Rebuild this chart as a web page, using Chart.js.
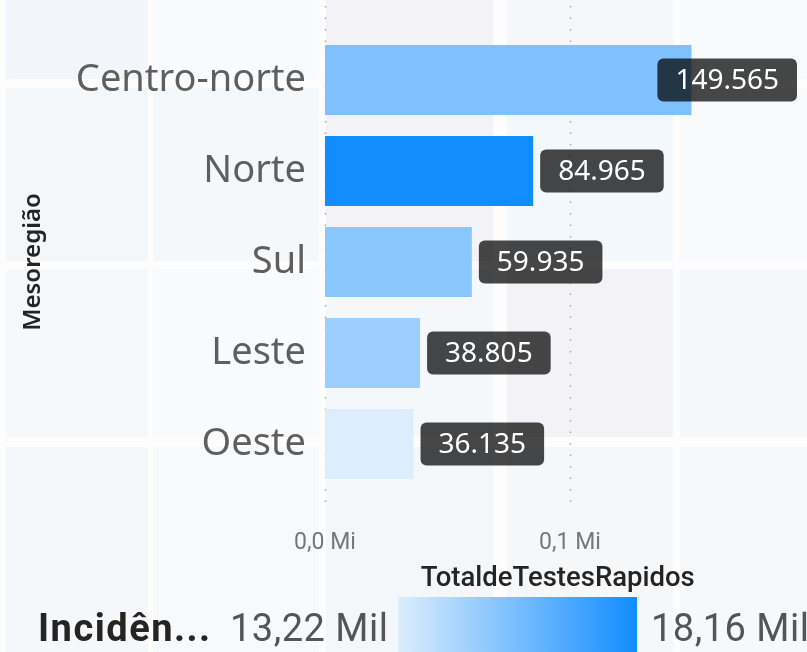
<!DOCTYPE html>
<html lang="pt-BR">
<head>
<meta charset="utf-8">
<title>TotaldeTestesRapidos por Mesoregião</title>
<script src="https://cdn.jsdelivr.net/npm/chart.js@4.4.0/dist/chart.umd.min.js"></script>
<style>
    html, body { margin: 0; padding: 0; background: #ffffff; }
    #wrap { width: 807px; height: 652px; position: relative; }
</style>
</head>
<body>
<div id="wrap"><canvas id="chart" width="807" height="652"></canvas></div>
<script>
// --- DATA ---
const regioes = ['Centro-norte', 'Norte', 'Sul', 'Leste', 'Oeste'];
const totalTestes = [149565, 84965, 59935, 38805, 36135];
const xTickValues = [0, 100000];
const incidenciaTitulo = 'Incidên...';
const incidenciaMin = '13,22 Mil';
const incidenciaMax = '18,16 Mil';

// bar colours follow the incidence gradient (light -> strong blue)
const barColors = ['#7fc0ff', '#118dff', '#8ac6ff', '#9ccfff', '#dcedfd'];

const fmtMil = v => String(v).replace(/\B(?=(\d{3})+(?!\d))/g, '.');
const fmtMi = v => (v / 1e6).toFixed(1).replace('.', ',') + ' Mi';

// --- BACKGROUND TILES (faint report backdrop) ---
const tileCols = [[6, 148], [153, 319], [326, 493], [507, 673], [680, 807]];
const tileRows = [[0, 79], [88, 261], [269, 437], [447, 652]];
const tileShades = [
    ['#f2f5f9', '#f8fafc', '#f2f2f7', '#f6f7fa', '#f7f9fb'],
    ['#f4f7fa', '#f5f8fa', '#f2f2f7', '#f2f8fc', '#f7f9fb'],
    ['#f6f8fa', '#f8fafc', '#f4f8fa', '#f2f2f7', '#f5f7fa'],
    ['#f5f7fa', '#f7f9fb', '#f4f7fa', '#f5f7f9', '#f6f8fa']
];

const backdrop = {
    id: 'backdrop',
    beforeDraw(chart) {
        const ctx = chart.ctx;
        ctx.save();
        ctx.fillStyle = '#fdfdfe';
        ctx.fillRect(0, 0, chart.width, chart.height);
        tileRows.forEach((r, i) => {
            tileCols.forEach((c, j) => {
                ctx.fillStyle = tileShades[i][j];
                ctx.fillRect(c[0], r[0], c[1] - c[0], r[1] - r[0]);
            });
        });
        ctx.restore();
    }
};

// dotted gridlines running the full height of the visual
const dottedGrid = {
    id: 'dottedGrid',
    beforeDatasetsDraw(chart) {
        const ctx = chart.ctx;
        const xs = chart.scales.x;
        ctx.save();
        ctx.strokeStyle = '#aaaaaa';
        ctx.lineWidth = 1.5;
        ctx.setLineDash([1.5, 10]);
        xs.ticks.forEach(t => {
            const px = Math.round(xs.getPixelForValue(t.value)) + 0.5;
            ctx.beginPath();
            ctx.moveTo(px, 6);
            ctx.lineTo(px, 506);
            ctx.stroke();
        });
        ctx.restore();
    }
};

// dark value boxes next to each bar
const valueBoxes = {
    id: 'valueBoxes',
    afterDatasetsDraw(chart) {
        const ctx = chart.ctx;
        const meta = chart.getDatasetMeta(0);
        ctx.save();
        ctx.font = '28px "Noto Sans"';
        ctx.textBaseline = 'middle';
        ctx.textAlign = 'left';
        meta.data.forEach((bar, i) => {
            const label = fmtMil(totalTestes[i]);
            const w = ctx.measureText(label).width + 36;
            const h = 43;
            let left = bar.x + 7;
            if (left + w > chart.width - 10) left = chart.width - 10 - w;
            const top = bar.y - h / 2;
            ctx.fillStyle = 'rgba(0,0,0,0.72)';
            ctx.beginPath();
            ctx.roundRect(left, top, w, h, 6);
            ctx.fill();
            ctx.fillStyle = '#ffffff';
            ctx.fillText(label, left + 18, bar.y + 1);
        });
        ctx.restore();
    }
};

// colour-scale legend at the bottom
const gradientLegend = {
    id: 'gradientLegend',
    afterDraw(chart) {
        const ctx = chart.ctx;
        ctx.save();
        ctx.textBaseline = 'alphabetic';
        ctx.fillStyle = '#252423';
        ctx.font = 'bold 38px Roboto';
        ctx.letterSpacing = '1.5px';
        ctx.fillText(incidenciaTitulo, 38, 641);
        ctx.fillStyle = '#555555';
        ctx.font = '38px Roboto';
        ctx.letterSpacing = '0.5px';
        ctx.fillText(incidenciaMin, 230, 641);
        const g = ctx.createLinearGradient(398, 0, 637, 0);
        g.addColorStop(0, barColors[4]);
        g.addColorStop(1, barColors[1]);
        ctx.fillStyle = g;
        ctx.fillRect(398, 597, 239, 55);
        ctx.fillStyle = '#555555';
        ctx.fillText(incidenciaMax, 651, 641);
        ctx.restore();
    }
};

const ctx = document.getElementById('chart').getContext('2d');
new Chart(ctx, {
    type: 'bar',
    data: {
        labels: regioes,
        datasets: [{
            label: 'TotaldeTestesRapidos',
            data: totalTestes,
            backgroundColor: barColors,
            borderWidth: 0,
            barPercentage: 0.77,
            categoryPercentage: 1.0
        }]
    },
    options: {
        indexAxis: 'y',
        responsive: false,
        animation: false,
        layout: { padding: { top: 34.5, right: 16.5, bottom: 60, left: 0 } },
        plugins: {
            legend: { display: false },
            tooltip: { enabled: false }
        },
        scales: {
            x: {
                min: 0,
                max: 190000,
                grid: { display: false, drawTicks: false },
                border: { display: false },
                afterBuildTicks: s => { s.ticks = xTickValues.map(v => ({ value: v })); },
                afterFit: s => { s.height = 102.5; s.paddingLeft = 0; s.paddingRight = 0; },
                ticks: {
                    padding: 40,
                    color: '#777777',
                    font: { family: 'Roboto', size: 23 },
                    callback: v => fmtMi(v)
                },
                title: {
                    display: true,
                    text: 'TotaldeTestesRapidos',
                    color: '#252423',
                    font: { family: 'Roboto', size: 27.5, weight: '500' },
                    padding: { top: 0, bottom: -4 }
                }
            },
            y: {
                grid: { display: false, drawTicks: false },
                border: { display: false },
                afterFit: s => { s.width = 325; s.paddingTop = 0; s.paddingBottom = 0; },
                ticks: {
                    padding: 19,
                    color: '#5f5f5f',
                    font: { family: 'Noto Sans', size: 38 }
                },
                title: {
                    display: true,
                    text: 'Mesoregião',
                    color: '#252423',
                    font: { family: 'Noto Sans', size: 24, weight: '600' },
                    padding: { top: 19, bottom: 0 }
                }
            }
        }
    },
    plugins: [backdrop, dottedGrid, valueBoxes, gradientLegend]
});
</script>
</body>
</html>
